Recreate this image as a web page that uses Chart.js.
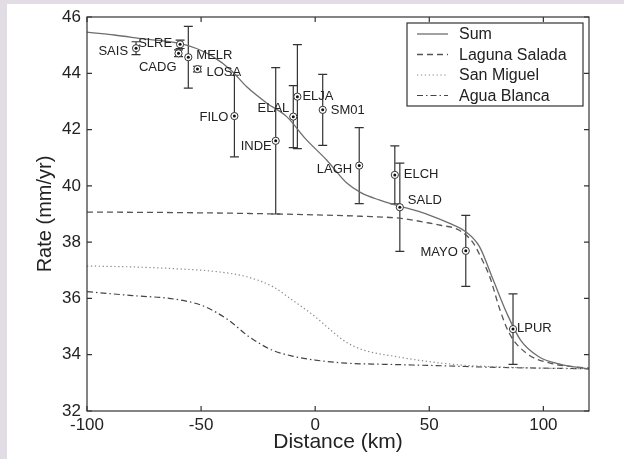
<!DOCTYPE html>
<html>
<head>
<meta charset="utf-8">
<script src="https://cdn.jsdelivr.net/npm/chart.js@4/dist/chart.umd.min.js"></script>
<style>
  html, body { margin: 0; padding: 0; background: #e2dce4; }
  #paper { position: absolute; left: 7px; top: 4px; width: 617px; height: 455px; background: #fff; }
  #c { position: absolute; left: 0; top: 0; }
</style>
</head>
<body>
<div id="paper"></div>
<canvas id="c" width="624" height="459"></canvas>
<script>
// model curves (distance km -> rate mm/yr)
const sumX = [-100, -88, -75, -60, -52, -45, -37, -30, -21, -12.5, -4, 5, 14, 20, 28, 37, 45, 52, 60, 66, 72, 78, 84, 90, 98, 108, 120];
const sumY = [45.46, 45.36, 45.22, 45.07, 44.88, 44.6, 44.12, 43.52, 42.93, 42.46, 41.65, 40.92, 40.09, 39.76, 39.5, 39.28, 39.1, 38.9, 38.63, 38.37, 37.84, 36.66, 35.47, 34.52, 33.93, 33.65, 33.5];

const lagunaX = [-100, -60, -30, 0, 20, 37, 50, 55, 63, 69, 73, 76.5, 81, 85, 92.6, 103, 120];
const lagunaY = [39.07, 39.05, 39.02, 38.97, 38.92, 38.85, 38.68, 38.6, 38.43, 38.0, 37.4, 36.77, 35.59, 34.77, 34.05, 33.7, 33.52];

const miguelX = [-100, -80, -60, -43, -30, -18.6, -10, 0, 7.6, 13.5, 21, 35.7, 50.3, 64.8, 79.4, 100, 120];
const miguelY = [37.15, 37.12, 37.05, 36.95, 36.77, 36.42, 35.94, 35.35, 34.82, 34.45, 34.17, 33.93, 33.75, 33.63, 33.57, 33.52, 33.5];

const blancaX = [-100, -80, -62, -49, -38, -29, -19, -10, 0, 13.5, 30, 50, 80, 120];
const blancaY = [36.24, 36.1, 35.98, 35.73, 35.23, 34.64, 34.17, 33.95, 33.81, 33.7, 33.66, 33.62, 33.55, 33.5];

// GPS stations
const stations = ['SAIS', 'SLRE', 'CADG', 'MELR', 'LOSA', 'FILO', 'INDE', 'ELAL', 'ELJA', 'SM01', 'LAGH', 'ELCH', 'SALD', 'MAYO', 'LPUR'];
const stationX = [-78.5, -59.2, -59.9, -55.6, -51.6, -35.4, -17.3, -9.6, -7.8, 3.3, 19.3, 34.9, 37.1, 66, 86.7];
const stationRate = [44.89, 45.03, 44.71, 44.57, 44.15, 42.48, 41.6, 42.46, 43.17, 42.7, 40.72, 40.39, 39.24, 37.69, 34.91];
const stationErr = [0.23, 0.15, 0.12, 1.1, 0.1, 1.45, 2.6, 1.1, 1.85, 1.26, 1.35, 1.03, 1.57, 1.26, 1.25];

const xTicks = [-100, -50, 0, 50, 100];
const yTicks = [32, 34, 36, 38, 40, 42, 44, 46];

// where each station name sits relative to its marker: [textAlign, dx, dy]
const labelSpot = {
  SAIS: ['right', -8, 3], SLRE: ['right', -8, -1], CADG: ['right', -2, 14],
  MELR: ['left', 8, -2], LOSA: ['left', 9, 3], FILO: ['right', -6, 1],
  INDE: ['right', -4, 6], ELAL: ['right', -4, -8], ELJA: ['left', 5, 0],
  SM01: ['left', 8, 1], LAGH: ['right', -7, 4], ELCH: ['left', 9, 0],
  SALD: ['left', 8, -7], MAYO: ['right', -8, 2], LPUR: ['left', 4, -1]
};

const pts = (xs, ys) => xs.map((x, i) => ({ x: x, y: ys[i] }));
const ink = '#222';
const font = '"Liberation Sans", Arial, Helvetica, sans-serif';

const curves = [
  { label: 'Sum', data: pts(sumX, sumY), color: '#6e6e6e', dash: [] , w: 1.3},
  { label: 'Laguna Salada', data: pts(lagunaX, lagunaY), color: '#555', dash: [6, 4], w: 1.3 },
  { label: 'San Miguel', data: pts(miguelX, miguelY), color: '#8a8a8a', dash: [1.3, 2.6], w: 1.2 },
  { label: 'Agua Blanca', data: pts(blancaX, blancaY), color: '#444', dash: [6, 3, 1.5, 3], w: 1.2 }
];

const stationPts = pts(stationX, stationRate);

const extras = {
  id: 'extras',
  beforeDatasetsDraw(chart) {
    // error bars
    const ctx = chart.ctx, xs = chart.scales.x, ys = chart.scales.y;
    ctx.save();
    ctx.strokeStyle = '#333';
    ctx.lineWidth = 1.2;
    stationX.forEach((sx, i) => {
      const px = xs.getPixelForValue(sx);
      const top = ys.getPixelForValue(stationRate[i] + stationErr[i]);
      const bot = ys.getPixelForValue(stationRate[i] - stationErr[i]);
      ctx.beginPath();
      ctx.moveTo(px, top); ctx.lineTo(px, bot);
      ctx.moveTo(px - 4.5, top); ctx.lineTo(px + 4.5, top);
      ctx.moveTo(px - 4.5, bot); ctx.lineTo(px + 4.5, bot);
      ctx.stroke();
    });
    ctx.restore();
  },
  afterDatasetsDraw(chart) {
    // station names
    const ctx = chart.ctx, xs = chart.scales.x, ys = chart.scales.y;
    ctx.save();
    ctx.fillStyle = ink;
    ctx.font = '13px ' + font;
    ctx.textBaseline = 'middle';
    stations.forEach((name, i) => {
      const s = labelSpot[name];
      ctx.textAlign = s[0];
      ctx.fillText(name, xs.getPixelForValue(stationX[i]) + s[1], ys.getPixelForValue(stationRate[i]) + s[2]);
    });
    ctx.restore();
  },
  afterDraw(chart) {
    const ctx = chart.ctx, a = chart.chartArea, xs = chart.scales.x, ys = chart.scales.y;
    ctx.save();
    // frame
    ctx.strokeStyle = '#333';
    ctx.lineWidth = 1.2;
    ctx.strokeRect(a.left, a.top, a.right - a.left, a.bottom - a.top);
    // inward tick marks on all four sides
    ctx.beginPath();
    xTicks.forEach(v => {
      const px = xs.getPixelForValue(v);
      ctx.moveTo(px, a.bottom); ctx.lineTo(px, a.bottom - 5);
      ctx.moveTo(px, a.top); ctx.lineTo(px, a.top + 5);
    });
    yTicks.forEach(v => {
      const py = ys.getPixelForValue(v);
      ctx.moveTo(a.left, py); ctx.lineTo(a.left + 5, py);
      ctx.moveTo(a.right, py); ctx.lineTo(a.right - 5, py);
    });
    ctx.stroke();

    // legend box
    const lx = 407, ly = 23, lw = 176, lh = 83;
    ctx.fillStyle = '#fff';
    ctx.fillRect(lx, ly, lw, lh);
    ctx.strokeRect(lx, ly, lw, lh);
    ctx.font = '16px ' + font;
    ctx.textAlign = 'left';
    ctx.textBaseline = 'middle';
    curves.forEach((c, i) => {
      const y = ly + 11 + i * 20.5;
      ctx.strokeStyle = c.color;
      ctx.lineWidth = c.w;
      ctx.setLineDash(c.dash);
      ctx.beginPath();
      ctx.moveTo(lx + 10, y); ctx.lineTo(lx + 41, y);
      ctx.stroke();
      ctx.setLineDash([]);
      ctx.fillStyle = ink;
      ctx.fillText(c.label, lx + 52, y + 1);
    });
    ctx.restore();
  }
};

new Chart(document.getElementById('c'), {
  type: 'scatter',
  data: {
    datasets: curves.map(c => ({
      label: c.label,
      data: c.data,
      order: 2,
      showLine: true,
      borderColor: c.color,
      borderWidth: c.w,
      borderDash: c.dash,
      pointRadius: 0,
      cubicInterpolationMode: 'monotone',
      fill: false
    })).concat([{ // station rings
      label: 'stations',
      data: stationPts,
      order: 1,
      pointRadius: 3.6,
      pointBorderWidth: 1,
      pointBorderColor: '#333',
      pointBackgroundColor: '#fff'
    }, { // centre dots
      label: 'dots',
      data: stationPts,
      order: 0,
      pointRadius: 1.5,
      pointBorderWidth: 0,
      pointBackgroundColor: '#111'
    }])
  },
  options: {
    responsive: false,
    animation: false,
    devicePixelRatio: 1,
    layout: { padding: { left: 7, top: 17, right: 35, bottom: 0 } },
    plugins: { legend: { display: false }, tooltip: { enabled: false } },
    scales: {
      x: {
        type: 'linear', min: -100, max: 120,
        afterBuildTicks: s => { s.ticks = xTicks.map(v => ({ value: v })); },
        afterFit: s => { s.height = 48; },
        grid: { display: false, drawTicks: false },
        border: { display: false },
        ticks: { color: ink, padding: 4, maxRotation: 0, font: { family: font, size: 17 } },
        title: { display: true, text: 'Distance (km)', color: ink, padding: { top: 0, bottom: 4 }, font: { family: font, size: 21 } }
      },
      y: {
        type: 'linear', min: 32, max: 46,
        afterBuildTicks: s => { s.ticks = yTicks.map(v => ({ value: v })); },
        afterFit: s => { s.width = 80; },
        grid: { display: false, drawTicks: false },
        border: { display: false },
        ticks: { color: ink, padding: 6, font: { family: font, size: 17 } },
        title: { display: true, text: 'Rate (mm/yr)', color: ink, padding: { top: 26, bottom: 0 }, font: { family: font, size: 20 } }
      }
    }
  },
  plugins: [extras]
});
</script>
</body>
</html>
